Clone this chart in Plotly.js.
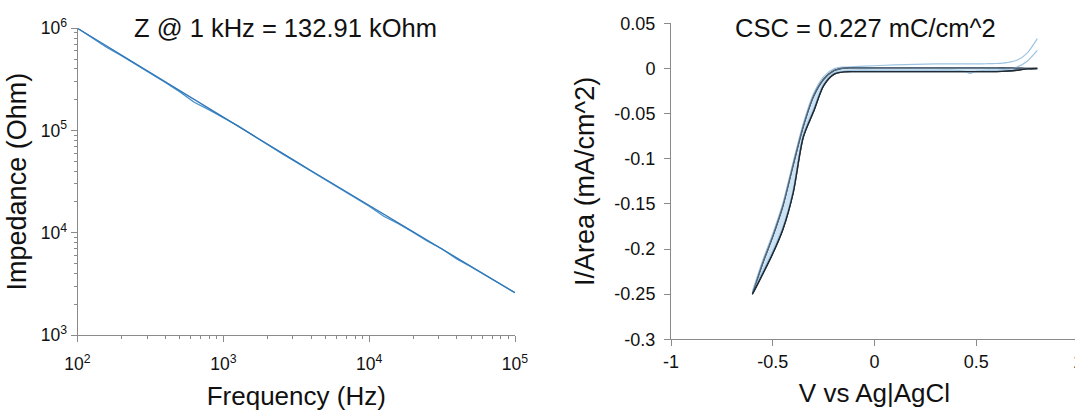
<!DOCTYPE html>
<html><head><meta charset="utf-8">
<script src="https://cdn.plot.ly/plotly-3.0.1.min.js"></script>
<style>html,body{margin:0;padding:0;overflow:hidden;background:#fff;width:1075px;height:411px}#chart{width:1090px;height:411px}</style>
</head><body><div id="chart"></div><script>
// ---- Impedance spectrum (left) ----
const freqHz = [100, 126, 158, 200, 251, 316, 398, 501, 631, 794, 1000, 1259, 1585, 1995, 2512, 3162, 3981, 5012, 6310, 7943, 10000, 12589, 15849, 19953, 25119, 31623, 39811, 50119, 63096, 79433, 100000];
const impedanceSweep1 = [1000000, 800000, 652000, 540000, 444000, 362000, 297000, 240000, 189000, 160000, 132900, 111500, 90500, 73000, 59800, 49000, 40300, 33000, 27300, 22300, 18200, 14500, 12300, 10150, 8250, 6940, 5550, 4620, 3800, 3150, 2590];
const impedanceSweep2 = [1000000, 817000, 668000, 546000, 447000, 365000, 298000, 244000, 199000, 163000, 133000, 109000, 89500, 73600, 60400, 49600, 40700, 33400, 27400, 22500, 18500, 15200, 12500, 10300, 8450, 6940, 5700, 4690, 3850, 3160, 2590];
const freqTickVals = [100, 1000, 10000, 100000];
const freqTickText = ['10<sup>2</sup>', '10<sup>3</sup>', '10<sup>4</sup>', '10<sup>5</sup>'];
const zTickVals = [1000, 10000, 100000, 1000000];
const zTickText = ['10<sup>3</sup>', '10<sup>4</sup>', '10<sup>5</sup>', '10<sup>6</sup>'];
const freqDecades = [2, 3, 4];
const zDecades = [3, 4, 5];
const minorDigits = [2, 3, 4, 5, 6, 7, 8, 9];

// ---- Cyclic voltammogram (right) ----
const voltage = [-0.6, -0.55, -0.5, -0.45, -0.4, -0.35, -0.3, -0.25, -0.2, -0.15, -0.1, 0, 0.1, 0.2, 0.3, 0.4, 0.44, 0.47, 0.5, 0.55, 0.6, 0.65, 0.7, 0.75, 0.8];
const cycle1Forward = [-0.247, -0.213, -0.183, -0.149, -0.104, -0.061, -0.028, -0.009, -0.0005, 0.0015, 0.002, 0.003, 0.004, 0.0045, 0.005, 0.005, 0.005, 0.005, 0.005, 0.0052, 0.0055, 0.0065, 0.009, 0.017, 0.033];
const cycle1Reverse = [-0.247, -0.225, -0.202, -0.175, -0.135, -0.073, -0.045, -0.017, -0.005, -0.003, -0.002, -0.002, -0.002, -0.002, -0.002, -0.002, -0.003, -0.0055, -0.003, -0.002, -0.002, -0.001, 0.0015, 0.008, 0.02];
const cycle2Forward = [-0.250, -0.216, -0.186, -0.152, -0.107, -0.064, -0.031, -0.012, -0.0025, 0.0005, 0.0008, 0.0008, 0.0008, 0.0008, 0.0008, 0.0008, 0.0008, 0.0008, 0.0008, 0.0008, 0.0008, 0.0006, 0.0004, 0, 0];
const cycle2Reverse = [-0.250, -0.228, -0.205, -0.178, -0.138, -0.076, -0.048, -0.019, -0.0065, -0.0038, -0.0035, -0.0035, -0.0035, -0.0035, -0.0035, -0.0035, -0.0035, -0.0035, -0.0035, -0.0035, -0.0035, -0.003, -0.002, -0.0005, 0];
const currentTickVals = [0.05, 0, -0.05, -0.1, -0.15, -0.2, -0.25, -0.3];
const currentTickText = ['0.05', '0', '-0.05', '-0.1', '-0.15', '-0.2', '-0.25', '-0.3'];
const voltTickVals = [-1, -0.5, 0, 0.5, 1];
const voltTickText = ['-1', '-0.5', '0', '0.5', '1'];

const leftTitle = 'Z @ 1 kHz = 132.91 kOhm';
const rightTitle = 'CSC = 0.227 mC/cm^2';

function minorVals(decades) {
  const out = [];
  decades.forEach(d => minorDigits.forEach(m => out.push(m * Math.pow(10, d))));
  return out;
}
const rev = a => a.slice().reverse();

const W = 1090, H = 411;
const px = v => v / W;
const py = v => (H - v) / H;

const axisGray = '#8a8a8a';
const FONT = 'Liberation Sans, Arial, sans-serif';
const cvLine = {shape: 'spline', smoothing: 0.8};

const traces = [
  {x: freqHz, y: impedanceSweep1, xaxis: 'x', yaxis: 'y', mode: 'lines', line: {color: '#4a90cc', width: 1.3}},
  {x: freqHz, y: impedanceSweep2, xaxis: 'x', yaxis: 'y', mode: 'lines', line: {color: '#2f78b8', width: 1.3}},
  {x: voltage.concat(rev(voltage)), y: cycle2Forward.concat(rev(cycle2Reverse)), xaxis: 'x2', yaxis: 'y2', mode: 'lines',
   fill: 'toself', fillcolor: 'rgba(200,224,243,0.9)', line: Object.assign({color: '#1f2a35', width: 1.4}, cvLine)},
  {x: voltage, y: cycle1Forward, xaxis: 'x2', yaxis: 'y2', mode: 'lines', line: Object.assign({color: '#9cc4e2', width: 1.2}, cvLine)},
  {x: voltage, y: cycle1Reverse, xaxis: 'x2', yaxis: 'y2', mode: 'lines', line: Object.assign({color: '#9cc4e2', width: 1.2}, cvLine)},
  {x: voltage, y: cycle2Forward, xaxis: 'x2', yaxis: 'y2', mode: 'lines', line: Object.assign({color: '#55687a', width: 1.3}, cvLine)},
  {x: voltage, y: cycle2Reverse, xaxis: 'x2', yaxis: 'y2', mode: 'lines', line: Object.assign({color: '#1f2a35', width: 1.4}, cvLine)}
];

const common = {
  showline: true, linecolor: axisGray, linewidth: 1, ticks: 'outside', ticklen: 6, tickwidth: 1, tickcolor: axisGray,
  showgrid: false, zeroline: false
};

const layout = {
  width: W, height: H, margin: {l: 0, r: 0, t: 0, b: 0}, showlegend: false,
  paper_bgcolor: '#fff', plot_bgcolor: 'rgba(0,0,0,0)', font: {family: FONT, color: '#111'},
  xaxis: Object.assign({}, common, {
    type: 'log', domain: [px(77.5), px(515)], range: [2, 5], anchor: 'y',
    tickmode: 'array', tickvals: freqTickVals, ticktext: freqTickText, ticklabelstandoff: 7,
    tickfont: {size: 17.5, color: '#111', family: FONT},
    minor: {tickmode: 'array', tickvals: minorVals(freqDecades), ticks: 'outside', ticklen: 3, tickcolor: axisGray},
    title: {text: 'Frequency (Hz)', font: {size: 26, color: '#111'}, standoff: 19}
  }),
  yaxis: Object.assign({}, common, {
    type: 'log', domain: [py(335), py(28.3)], range: [3, 6], anchor: 'x',
    tickmode: 'array', tickvals: zTickVals, ticktext: zTickText,
    tickfont: {size: 17.5, color: '#111', family: FONT},
    minor: {tickmode: 'array', tickvals: minorVals(zDecades), ticks: 'outside', ticklen: 3, tickcolor: axisGray},
    title: {text: 'Impedance (Ohm)', font: {size: 27, color: '#111'}, standoff: 6}
  }),
  xaxis2: Object.assign({}, common, {
    domain: [px(671), px(1078)], range: [-1, 1], anchor: 'y2',
    tickmode: 'array', tickvals: voltTickVals, ticktext: voltTickText,
    tickfont: {size: 18, color: '#111', family: FONT},
    title: {text: 'V vs Ag|AgCl', font: {size: 26, color: '#111'}, standoff: 12}
  }),
  yaxis2: Object.assign({}, common, {
    domain: [py(339.3), py(23.3)], range: [-0.3, 0.05], anchor: 'x2',
    tickmode: 'array', tickvals: currentTickVals, ticktext: currentTickText, ticklabelstandoff: 5,
    tickfont: {size: 18, color: '#111', family: FONT},
    title: {text: 'I/Area (mA/cm^2)', font: {size: 27, color: '#111'}, standoff: 11}
  }),
  annotations: [
    {text: leftTitle, xref: 'paper', yref: 'paper', x: px(285), y: py(28.5), xanchor: 'center', yanchor: 'middle', showarrow: false, font: {size: 25.5, color: '#111', family: FONT}},
    {text: rightTitle, xref: 'paper', yref: 'paper', x: px(865), y: py(28.5), xanchor: 'center', yanchor: 'middle', showarrow: false, font: {size: 25.5, color: '#111', family: FONT}}
  ]
};

Plotly.newPlot('chart', traces, layout, {staticPlot: true, displayModeBar: false});
</script></body></html>
